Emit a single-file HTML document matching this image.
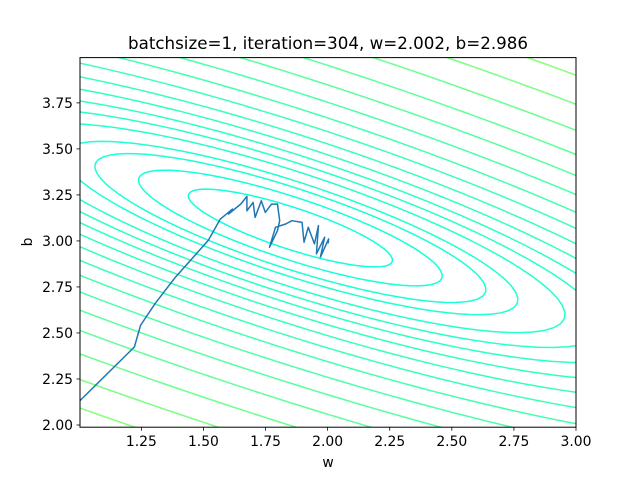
<!DOCTYPE html>
<html><head><meta charset="utf-8"><style>
html,body{margin:0;padding:0;background:#fff;width:640px;height:480px;overflow:hidden;}
svg{display:block;font-family:"DejaVu Sans","Liberation Sans",sans-serif;}
</style></head><body>
<svg id="chart" width="640" height="480" viewBox="0 0 640 480" xmlns="http://www.w3.org/2000/svg">
<rect x="0" y="0" width="640" height="480" fill="#fff"/>
<defs><clipPath id="plotclip"><rect x="80" y="57.6" width="496" height="369.6"/></clipPath></defs>
<g id="contours" clip-path="url(#plotclip)"></g>
<g id="traj" clip-path="url(#plotclip)"></g>
<rect x="80" y="57.6" width="496" height="369.6" fill="none" stroke="#000" stroke-width="1"/>
<g id="xticks"></g>
<g id="yticks"></g>
<text x="328" y="49" text-anchor="middle" font-size="16.7">batchsize=1, iteration=304, w=2.002, b=2.986</text>
<text x="328" y="467" text-anchor="middle" font-size="13.9">w</text>
<text x="0" y="0" transform="translate(32,242) rotate(-90)" text-anchor="middle" font-size="13.9">b</text>
</svg>
<script>
// loss surface: A*dw^2 + B*dw*db + C*db^2 around minimum
const lossCenter = [1.85, 3.07];
const lossCoef = [0.264, 0.85, 1.0];
const levels = [0.0141,0.0312,0.0517,0.070,0.102,0.133,0.169,0.215,0.273,0.347,0.44,0.56,0.71,0.90,1.15,1.46,1.85,2.35,2.98];
const xTicks = [1.25,1.50,1.75,2.00,2.25,2.50,2.75,3.00];
const yTicks = [2.00,2.25,2.50,2.75,3.00,3.25,3.50,3.75];
const trajW = [1.0,1.005,1.222,1.247,1.305,1.387,1.519,1.568,1.617,1.601,1.650,1.675,1.675,1.700,1.708,1.733,1.749,1.774,1.798,1.807,1.798,1.766,1.790,1.831,1.856,1.897,1.905,1.922,1.947,1.963,1.955,1.988,1.971,2.004,2.002];
const trajB = [2.128,2.135,2.424,2.542,2.659,2.803,3.002,3.119,3.173,3.146,3.200,3.242,3.164,3.209,3.128,3.218,3.155,3.200,3.200,3.110,3.056,2.966,3.074,3.092,3.110,3.101,2.993,3.074,2.984,3.083,2.930,3.020,2.912,3.011,2.986];

const NS = "http://www.w3.org/2000/svg";
const X0=80, X1=576, Y0=427.2, Y1=57.6;
const xMin=1.003, xMax=3.0, yMin=1.988, yMax=3.996;
function xs(v){return X0+(v-xMin)/(xMax-xMin)*(X1-X0);}
function ys(v){return Y0-(v-yMin)/(yMax-yMin)*(Y0-Y1);}

const cg=document.getElementById('contours');
levels.forEach((L,i)=>{
  const t=Math.min(1,Math.sqrt(L/1.8));
  const r=Math.round(5+130*t), b=Math.round(232-112*t);
  let d='';
  for(let k=0;k<=240;k++){
    const ph=k/240*2*Math.PI, c=Math.cos(ph), s=Math.sin(ph);
    const rad=Math.sqrt(L/(lossCoef[0]*c*c+lossCoef[1]*c*s+lossCoef[2]*s*s));
    const px=xs(lossCenter[0]+rad*c), py=ys(lossCenter[1]+rad*s);
    d+=(k?'L':'M')+px.toFixed(2)+' '+py.toFixed(2);
  }
  const p=document.createElementNS(NS,'path');
  p.setAttribute('d',d+'Z');
  p.setAttribute('fill','none');
  p.setAttribute('stroke','rgb('+r+',255,'+b+')');
  p.setAttribute('stroke-width','1.5');
  
  
  cg.appendChild(p);
});

const tg=document.getElementById('traj');
let td='';
trajW.forEach((w,i)=>{td+=(i?'L':'M')+xs(w).toFixed(2)+' '+ys(trajB[i]).toFixed(2);});
const tp=document.createElementNS(NS,'path');
tp.setAttribute('d',td);
tp.setAttribute('fill','none');
tp.setAttribute('stroke','#1f77b4');
tp.setAttribute('stroke-width','1.5');
tp.setAttribute('stroke-linejoin','round');


tg.appendChild(tp);

const xg=document.getElementById('xticks');
xTicks.forEach(v=>{
  const x=xs(v);
  const l=document.createElementNS(NS,'line');
  l.setAttribute('x1',x);l.setAttribute('x2',x);l.setAttribute('y1',Y0);l.setAttribute('y2',Y0+3.5);
  l.setAttribute('stroke','#000');l.setAttribute('stroke-width','0.8');
  
  
  xg.appendChild(l);
  const tx=document.createElementNS(NS,'text');
  tx.setAttribute('x',x);tx.setAttribute('y',Y0+19);tx.setAttribute('text-anchor','middle');tx.setAttribute('font-size','13.9');
  tx.textContent=v.toFixed(2);
  
  
  xg.appendChild(tx);
});
const yg=document.getElementById('yticks');
yTicks.forEach(v=>{
  const y=ys(v);
  const l=document.createElementNS(NS,'line');
  l.setAttribute('x1',X0-3.5);l.setAttribute('x2',X0);l.setAttribute('y1',y);l.setAttribute('y2',y);
  l.setAttribute('stroke','#000');l.setAttribute('stroke-width','0.8');
  
  
  yg.appendChild(l);
  const tx=document.createElementNS(NS,'text');
  tx.setAttribute('x',X0-7);tx.setAttribute('y',y+5);tx.setAttribute('text-anchor','end');tx.setAttribute('font-size','13.9');
  tx.textContent=v.toFixed(2);
  
  
  yg.appendChild(tx);
});
</script>
</body></html>
